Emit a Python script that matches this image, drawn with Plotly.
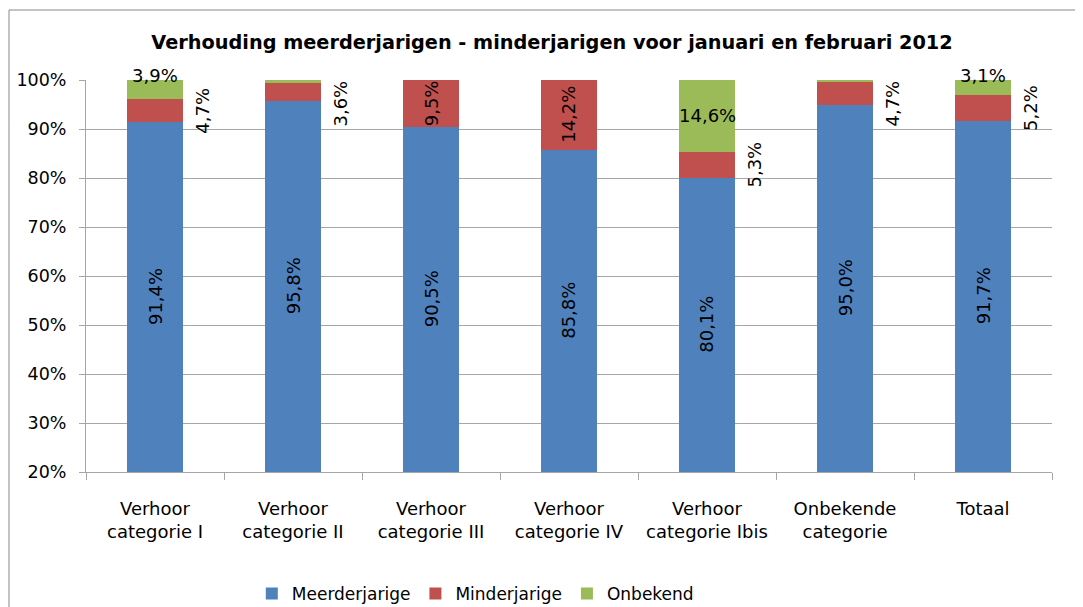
import plotly.graph_objects as go

categories = ["Verhoor<br>categorie I", "Verhoor<br>categorie II", "Verhoor<br>categorie III",
              "Verhoor<br>categorie IV", "Verhoor<br>categorie Ibis", "Onbekende<br>categorie", "Totaal"]
meerderjarige = [91.4, 95.8, 90.5, 85.8, 80.1, 95.0, 91.7]
minderjarige = [4.7, 3.6, 9.5, 14.2, 5.3, 4.7, 5.2]
onbekend = [3.9, 0.6, 0.0, 0.0, 14.6, 0.3, 3.1]

series = [("Meerderjarige", meerderjarige, "#4F81BD"),
          ("Minderjarige", minderjarige, "#C0504D"),
          ("Onbekend", onbekend, "#9BBB59")]

FONT = "DejaVu Sans"
AXMIN, AXMAX = 20, 100
GRID = "#A6A6A6"
FIG_H = 640

def fmt(v):
    return f"{v:.1f}%".replace(".", ",")

fig = go.Figure()
for name, vals, col in series:
    fig.add_trace(go.Bar(x=categories, y=vals, name=name, marker=dict(color=col, line=dict(width=0)),
                         width=0.4))

ann = []
lab_font = dict(family=FONT, size=18, color="#000000")
for i, c in enumerate(categories):
    m, n, o = meerderjarige[i], minderjarige[i], onbekend[i]
    # Meerderjarige: centered in visible part, rotated
    ann.append(dict(x=c, y=(AXMIN + m) / 2, text=fmt(m), textangle=-90, showarrow=False, font=lab_font))
    # Minderjarige
    if n >= 9:
        ann.append(dict(x=c, y=m + n / 2, text=fmt(n), textangle=-90, showarrow=False, font=lab_font))
    else:
        ann.append(dict(x=c, y=min(m + n / 2, 95.2), text=fmt(n), textangle=-90, showarrow=False,
                        font=lab_font, xshift=48))
    # Onbekend
    if o >= 10:
        ann.append(dict(x=c, y=m + n + o / 2, text=fmt(o), showarrow=False, font=lab_font))
    elif o >= 1:
        ann.append(dict(x=c, y=AXMAX, text=fmt(o), showarrow=False, font=lab_font, yshift=5))

fig.update_layout(
    barmode="stack",
    width=1083, height=FIG_H,
    margin=dict(l=78, r=39, t=72, b=FIG_H - 72 - 392),
    paper_bgcolor="white", plot_bgcolor="white",
    font=dict(family=FONT, size=17, color="#000000"),
    title=dict(text="<b>Verhouding meerderjarigen - minderjarigen voor januari en februari 2012</b>",
               x=544 / 1083, xref="container", xanchor="center",
               y=1 - 34 / FIG_H, yref="container", yanchor="middle", automargin=False,
               font=dict(family=FONT, size=19.3, color="#000000")),
    showlegend=True,
    legend=dict(orientation="h", x=0.403, xanchor="center", y=-0.311, yanchor="middle",
                font=dict(family=FONT, size=17), traceorder="normal", itemwidth=30),
    annotations=ann,
    shapes=[dict(type="rect", xref="paper", yref="paper", x0=-0.0797, x1=1.2, y0=-0.7, y1=1.1786,
                 line=dict(color="#888888", width=1), fillcolor="rgba(0,0,0,0)", layer="below")],
)
fig.update_xaxes(showline=True, linecolor=GRID, linewidth=1, ticks="outside", tickson="boundaries",
                 ticklen=7, tickcolor=GRID, showgrid=False, tickfont=dict(size=18), automargin=False,
                 ticklabelstandoff=20)
fig.update_yaxes(range=[AXMIN, AXMAX], dtick=10, ticksuffix="%", showline=True, linecolor=GRID,
                 ticks="outside", ticklen=6, tickcolor=GRID, gridcolor=GRID, gridwidth=1,
                 zeroline=False, tickfont=dict(size=17.5), automargin=False, ticklabelstandoff=9)

fig.write_html("out.html")
